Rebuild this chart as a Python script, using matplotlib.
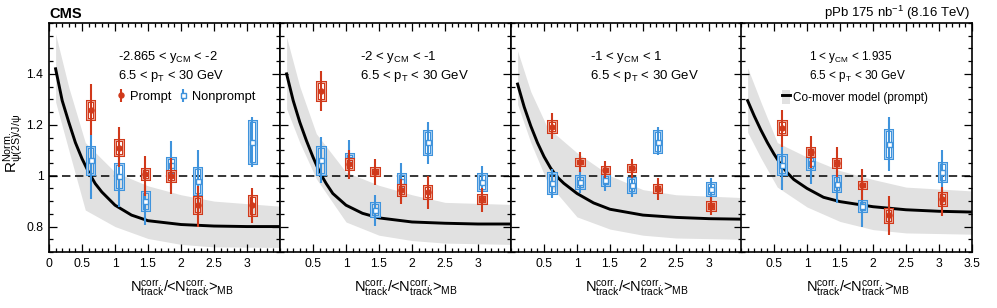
import matplotlib
matplotlib.use('Agg')
import matplotlib.pyplot as plt
from matplotlib.patches import Rectangle, Patch
from matplotlib.lines import Line2D
from matplotlib.ticker import MultipleLocator

plt.rcParams['font.family'] = ['Liberation Sans', 'DejaVu Sans']
plt.rcParams['mathtext.fontset'] = 'custom'
plt.rcParams['mathtext.rm'] = 'Liberation Sans'
plt.rcParams['mathtext.it'] = 'Liberation Sans'
plt.rcParams['mathtext.bf'] = 'Liberation Sans:bold'
plt.rcParams['mathtext.sf'] = 'Liberation Sans'

# ---- data ----
rap_labels = [r'-2.865 < $\mathrm{y}_{\mathrm{CM}}$ < -2',
              r'-2 < $\mathrm{y}_{\mathrm{CM}}$ < -1',
              r'-1 < $\mathrm{y}_{\mathrm{CM}}$ < 1',
              r'1 < $\mathrm{y}_{\mathrm{CM}}$ < 1.935']
pt_label = r'6.5 < $\mathrm{p}_{\mathrm{T}}$ < 30 GeV'

x_pos = [[0.63, 1.06, 1.46, 1.85, 2.25, 3.08],
         [0.62, 1.05, 1.44, 1.84, 2.24, 3.06],
         [0.62, 1.045, 1.43, 1.83, 2.22, 3.03],
         [0.62, 1.056, 1.45, 1.84, 2.24, 3.05]]

prompt_val = [[1.259, 1.11, 1.005, 1.0, 0.885, 0.884],
              [1.334, 1.046, 1.016, 0.944, 0.936, 0.907],
              [1.193, 1.053, 1.023, 1.03, 0.949, 0.88],
              [1.188, 1.093, 1.051, 0.965, 0.844, 0.907]]
prompt_up = [[0.10, 0.08, 0.071, 0.068, 0.075, 0.069],
             [0.076, 0.054, 0.049, 0.044, 0.061, 0.046],
             [0.053, 0.04, 0.034, 0.036, 0.043, 0.036],
             [0.072, 0.061, 0.061, 0.062, 0.075, 0.048]]
prompt_dn = [[0.10, 0.076, 0.083, 0.073, 0.085, 0.071],
             [0.078, 0.058, 0.052, 0.055, 0.066, 0.05],
             [0.048, 0.039, 0.033, 0.038, 0.043, 0.036],
             [0.076, 0.063, 0.056, 0.062, 0.078, 0.067]]
prompt_sys = [[0.035, 0.03, 0.02, 0.019, 0.033, 0.037],
              [0.035, 0.018, 0.015, 0.02, 0.023, 0.016],
              [0.023, 0.013, 0.012, 0.013, 0.013, 0.016],
              [0.025, 0.015, 0.016, 0.012, 0.026, 0.023]]

nonprompt_val = [[1.06, 0.997, 0.90, 1.042, 0.979, 1.132],
                 [1.061, 1.067, 0.866, 0.981, 1.132, 0.975],
                 [0.971, 0.975, 0.982, 0.962, 1.134, 0.949],
                 [1.043, 1.05, 0.969, 0.881, 1.125, 1.014]]
nonprompt_up = [[0.098, 0.09, 0.069, 0.096, 0.12, 0.098],
                [0.09, 0.072, 0.057, 0.07, 0.078, 0.063],
                [0.056, 0.045, 0.04, 0.045, 0.056, 0.041],
                [0.069, 0.06, 0.05, 0.07, 0.105, 0.085]]
nonprompt_dn = [[0.15, 0.12, 0.095, 0.094, 0.11, 0.098],
                [0.088, 0.07, 0.062, 0.08, 0.085, 0.06],
                [0.057, 0.043, 0.042, 0.046, 0.054, 0.045],
                [0.101, 0.081, 0.076, 0.081, 0.105, 0.08]]
nonprompt_sys = [[0.054, 0.048, 0.034, 0.028, 0.05, 0.083],
                 [0.053, 0.02, 0.025, 0.027, 0.045, 0.033],
                 [0.038, 0.024, 0.02, 0.028, 0.04, 0.024],
                 [0.037, 0.025, 0.028, 0.02, 0.055, 0.035]]

# co-mover model (prompt): central curve and uncertainty band
model_x = [0.1, 0.2, 0.3, 0.4, 0.5, 0.6, 0.7, 0.8, 1.0, 1.25, 1.5, 2.0, 2.5, 3.0, 3.5]
model_y = [[1.42, 1.295, 1.21, 1.13, 1.067, 1.014, 0.969, 0.936, 0.884, 0.845, 0.823, 0.808, 0.802, 0.80, 0.80],
           [1.40, 1.295, 1.21, 1.138, 1.073, 1.014, 0.969, 0.93, 0.884, 0.852, 0.834, 0.818, 0.813, 0.81, 0.81],
           [1.36, 1.27, 1.195, 1.13, 1.075, 1.03, 0.995, 0.97, 0.93, 0.893, 0.868, 0.845, 0.836, 0.831, 0.829],
           [1.295, 1.235, 1.18, 1.13, 1.085, 1.045, 1.012, 0.985, 0.95, 0.915, 0.898, 0.878, 0.866, 0.86, 0.857]]
band_x = [0.1, 0.3, 0.55, 1.0, 1.5, 2.0, 2.5, 3.5]
band_hi = [[1.557, 1.347, 1.13, 1.014, 0.96, 0.925, 0.90, 0.88],
           [1.544, 1.35, 1.165, 1.014, 0.962, 0.925, 0.895, 0.887],
           [1.49, 1.33, 1.19, 1.09, 1.0, 0.945, 0.925, 0.914],
           [1.424, 1.29, 1.13, 1.073, 1.02, 0.985, 0.955, 0.94]]
band_lo = [[1.29, 1.10, 0.865, 0.80, 0.753, 0.73, 0.72, 0.718],
           [1.263, 1.13, 0.988, 0.818, 0.766, 0.745, 0.735, 0.73],
           [1.28, 1.13, 0.975, 0.838, 0.79, 0.766, 0.755, 0.75],
           [1.171, 1.07, 0.955, 0.877, 0.82, 0.788, 0.775, 0.77]]

xtick_vals = [[0, 0.5, 1, 1.5, 2, 2.5, 3],
              [0.5, 1, 1.5, 2, 2.5, 3],
              [0.5, 1, 1.5, 2, 2.5, 3],
              [0.5, 1, 1.5, 2, 2.5, 3, 3.5]]
ytick_vals = [0.8, 1.0, 1.2, 1.4]
ytick_labels = ['0.8', '1', '1.2', '1.4']

RED = '#d0391b'
RED_LIGHT = '#f0b9aa'
BLUE = '#3f93dc'
BLUE_LIGHT = '#b5d5f3'
BAND = '#e1e1e1'

W, H = 997, 308
fig = plt.figure(figsize=(W / 100, H / 100), dpi=100)
lefts = [49, 280, 511, 741]
text_size = [9.3, 9.5, 9.5, 8.5]
text_x = [0.299, 0.346, 0.342, 0.294]
xlabel_x = [0.576, 0.545, 0.545, 0.506]
xlabel = r'N$^{\mathrm{corr.}}_{\mathrm{track}}$/<N$^{\mathrm{corr.}}_{\mathrm{track}}$>$_{\mathrm{MB}}$'


def draw_points(ax, xs, vals, up, dn, sys, color, light, marker, mfc, z):
    for x, v, s in zip(xs, vals, sys):
        ax.add_patch(Rectangle((x - 0.055, v - s), 0.11, 2 * s, fill=False,
                               edgecolor=color, lw=2.2, zorder=z))
        ax.add_patch(Rectangle((x - 0.055, v - s), 0.11, 2 * s, fill=False,
                               edgecolor=light, lw=0.6, zorder=z))
    return ax.errorbar(xs, vals, yerr=[dn, up], fmt=marker, color=color,
                       mfc=mfc, mec=color, ms=3.6, mew=1.0, elinewidth=1.5,
                       capsize=0, zorder=z + 0.5)


for i in range(4):
    ax = fig.add_axes([lefts[i] / W, 56 / H, 231 / W, 229 / H])
    ax.set_xlim(0, 3.5)
    ax.set_ylim(0.7, 1.6)

    ax.fill_between(band_x, band_lo[i], band_hi[i], color=BAND, lw=0, zorder=1)
    ax.plot(model_x, model_y[i], color='k', lw=2.1, zorder=2)
    ax.axhline(1.0, color='k', ls=(0, (5.5, 3)), lw=1.1, zorder=3)

    hn = draw_points(ax, x_pos[i], nonprompt_val[i], nonprompt_up[i], nonprompt_dn[i],
                     nonprompt_sys[i], BLUE, BLUE_LIGHT, 's', 'white', 4)
    hp = draw_points(ax, x_pos[i], prompt_val[i], prompt_up[i], prompt_dn[i],
                     prompt_sys[i], RED, RED_LIGHT, 'o', RED, 5)

    ax.set_xticks(xtick_vals[i])
    ax.set_xticklabels(['%g' % v for v in xtick_vals[i]], fontsize=8.7)
    ax.xaxis.set_minor_locator(MultipleLocator(0.1))
    ax.set_yticks(ytick_vals)
    if i == 0:
        ax.set_yticklabels(ytick_labels, fontsize=8.7)
    else:
        ax.set_yticklabels([])
    ax.yaxis.set_minor_locator(MultipleLocator(0.05))
    ax.tick_params(which='both', direction='in', top=True, right=True, width=0.9)
    ax.tick_params(axis='x', which='major', length=6, pad=4)
    ax.tick_params(axis='x', which='minor', length=3)
    ax.tick_params(axis='y', which='major', length=5.5, pad=4)
    ax.tick_params(axis='y', which='minor', length=3)
    for sp in ax.spines.values():
        sp.set_linewidth(1.2)

    ax.text(text_x[i], 0.838, rap_labels[i], transform=ax.transAxes,
            fontsize=text_size[i], va='baseline', ha='left')
    ax.text(text_x[i], 0.755, pt_label, transform=ax.transAxes,
            fontsize=text_size[i], va='baseline', ha='left')
    ax.text(xlabel_x[i], -0.175, xlabel, transform=ax.transAxes,
            fontsize=10.5, va='baseline', ha='center')

    if i == 0:
        ax.legend([hp, hn], ['Prompt', 'Nonprompt'], ncol=2, loc='center left',
                  bbox_to_anchor=(0.29, 0.677), frameon=False, fontsize=9.3,
                  handlelength=0.7, handletextpad=0.4, columnspacing=0.5,
                  borderpad=0, borderaxespad=0)
    if i == 3:
        model_handle = (Patch(facecolor=BAND, edgecolor='none'),
                        Line2D([], [], color='k', lw=2.1))
        ax.legend([model_handle], ['Co-mover model (prompt)'], loc='center left',
                  bbox_to_anchor=(0.177, 0.677), frameon=False, fontsize=8.5,
                  handlelength=0.7, handleheight=1.4, handletextpad=0.2,
                  borderpad=0, borderaxespad=0)

fig.text(49 / W, 1 - 17.5 / H, 'CMS', fontsize=10.5, fontweight='bold',
         ha='left', va='baseline')
fig.text(970 / W, 1 - 17 / H, r'pPb 175 nb$^{\mathrm{-1}}$ (8.16 TeV)', fontsize=9.5,
         ha='right', va='baseline')
fig.text(17 / W, 1 - 173 / H, r'R$^{\mathrm{Norm.}}_{\mathrm{ψ(2S)/J/ψ}}$', fontsize=11,
         rotation=90, rotation_mode='anchor', ha='left', va='baseline')

fig.savefig('out.png', dpi=100)
